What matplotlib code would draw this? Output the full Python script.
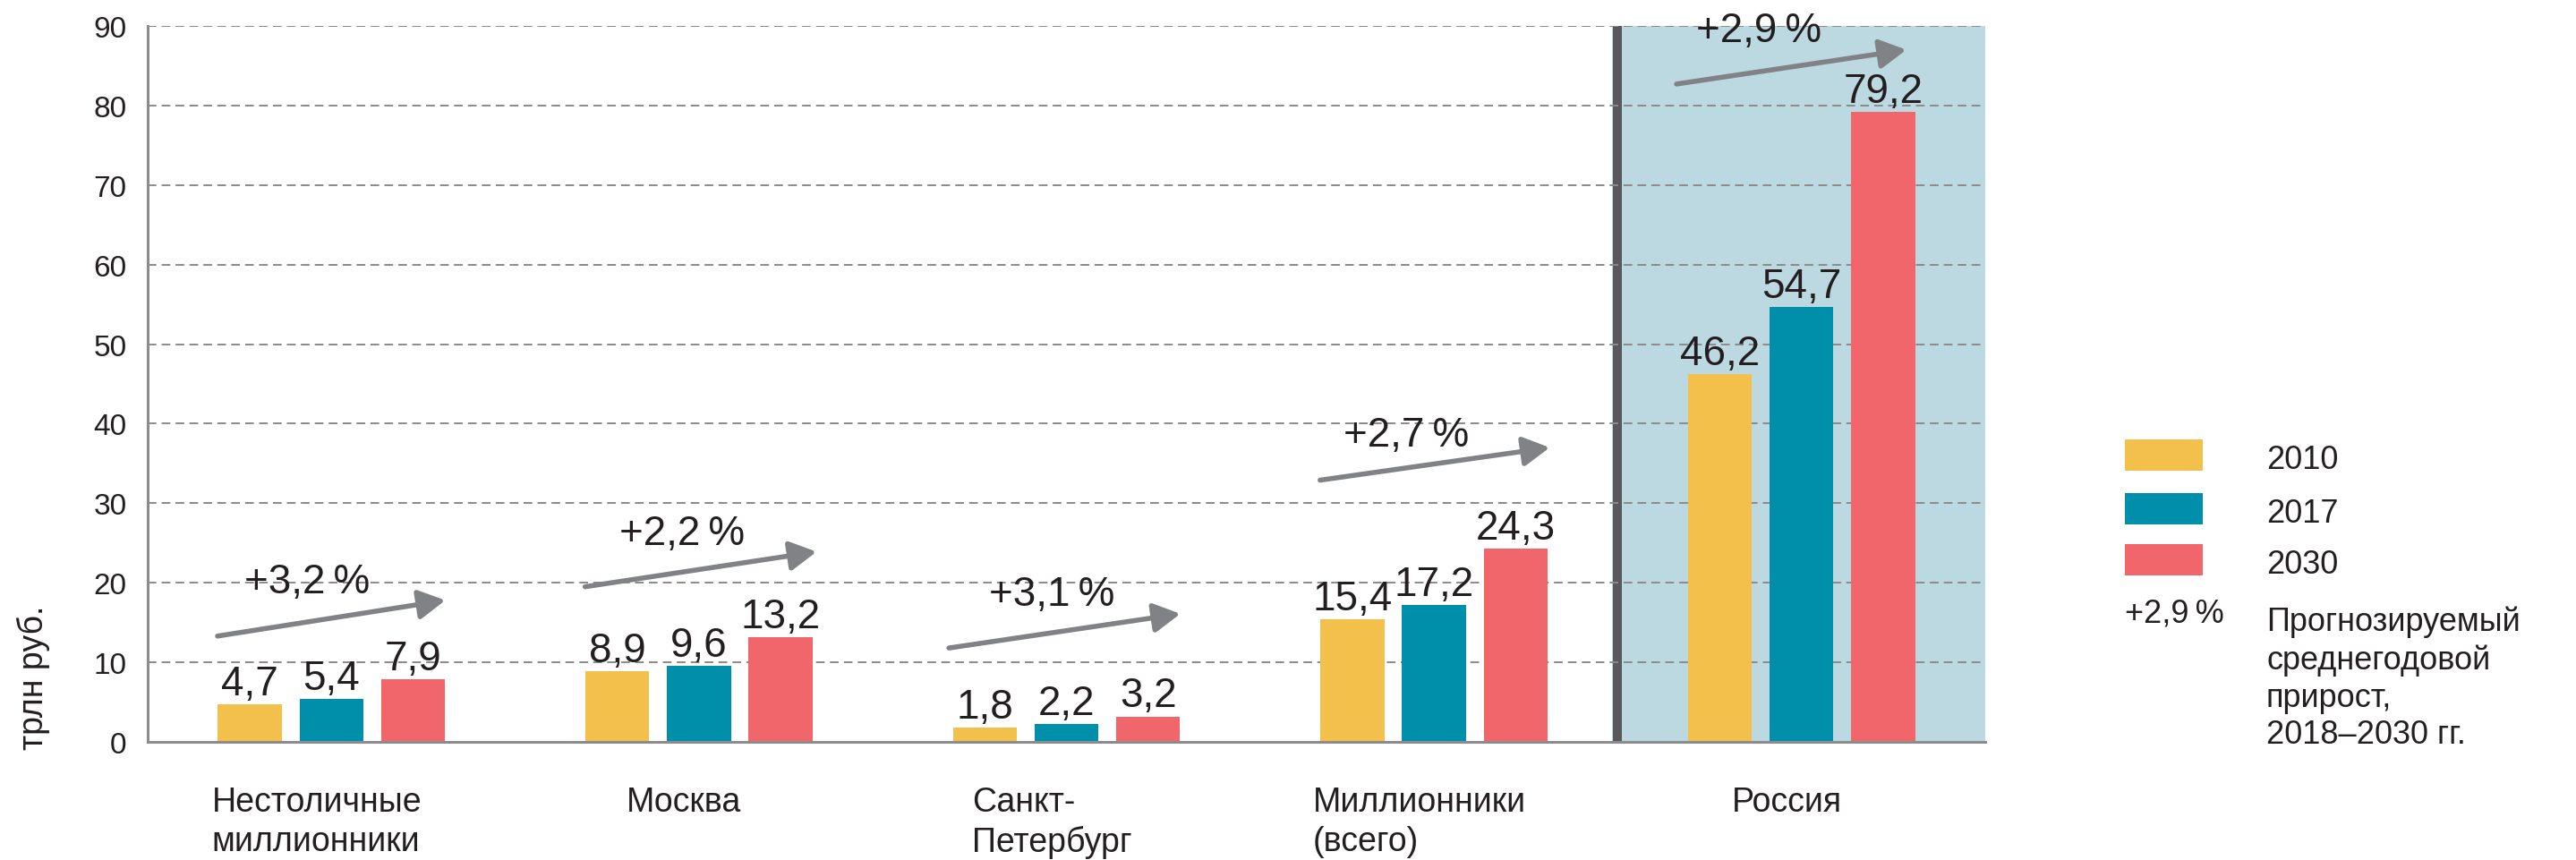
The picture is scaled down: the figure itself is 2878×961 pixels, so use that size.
import matplotlib
matplotlib.use("Agg")
import matplotlib.pyplot as plt
from matplotlib.patches import Rectangle

plt.rcParams['font.family'] = ['Liberation Sans', 'DejaVu Sans']

# data
categories = ['Нестоличные\nмиллионники', 'Москва', 'Санкт-\nПетербург',
              'Миллионники\n(всего)', 'Россия']
years = ['2010', '2017', '2030']
v2010 = [4.7, 8.9, 1.8, 15.4, 46.2]
v2017 = [5.4, 9.6, 2.2, 17.2, 54.7]
v2030 = [7.9, 13.2, 3.2, 24.3, 79.2]
growth = ['+3,2', '+2,2', '+3,1', '+2,7', '+2,9']

colors = ['#f4c04c', '#008fab', '#f0666b']
text_c = '#231f20'
arrow_c = '#808285'

# arrow layout per group: (x start off, y start, x end off, y end)
arrows = [(-0.31, 13.3, 0.31, 17.8),
          (-0.31, 19.5, 0.32, 23.9),
          (-0.32, 11.8, 0.31, 16.1),
          (-0.31, 32.9, 0.315, 37.0),
          (-0.34, 82.7, 0.285, 87.0)]
# growth label layout: (x off, baseline y)
glabels = [(-0.066, 18.8), (-0.046, 24.9), (-0.04, 17.2), (-0.075, 37.2), (-0.117, 88.1)]

W, H = 2878, 962
fig = plt.figure(figsize=(W / 100, H / 100), dpi=100)
ax = fig.add_axes([165 / W, 1 - 830 / H, (2218 - 165) / W, 800 / H])

n = len(categories)
ax.set_xlim(-0.5, n - 0.5)
ax.set_ylim(0, 90)

# Russia panel
ax.axvspan(n - 1.515, n - 0.5, color='#bcd8e1', zorder=0.2, lw=0)
ax.axvline(n - 1.502, color='#58595b', lw=7.2, zorder=0.3)

width, step = 0.174, 0.222
series = [v2010, v2017, v2030]
for k, vals in enumerate(series):
    xs = [i + (k - 1) * step for i in range(n)]
    ax.bar(xs, vals, width=width, color=colors[k], zorder=2, lw=0)
    for x, v in zip(xs, vals):
        ax.annotate(f"{v:.1f}".replace('.', ','), (x, v), xytext=(0, 8),
                    textcoords='offset points', ha='center', va='baseline',
                    fontsize=33, color=text_c)

for i in range(n):
    x0, y0, x1, y1 = arrows[i]
    ax.annotate('', xy=(i + x1, y1), xytext=(i + x0, y0),
                arrowprops=dict(arrowstyle='-|>,head_length=0.4,head_width=0.22',
                                mutation_scale=45, lw=4, color=arrow_c,
                                shrinkA=0, shrinkB=0),
                zorder=4, annotation_clip=False)
    gx, gy = glabels[i]
    ax.text(i + gx, gy, growth[i] + '\u2009%', ha='center', va='baseline',
            fontsize=33, color=text_c, zorder=5, clip_on=False)

ax.set_yticks(range(0, 91, 10))
ax.set_xticks([i - 0.04 for i in range(n)])
ax.set_xticklabels(categories, multialignment='left', fontsize=27, color=text_c,
                   linespacing=1.3)
ax.tick_params(axis='x', length=0, pad=35)
ax.tick_params(axis='y', length=0, pad=17, labelsize=24, labelcolor=text_c)

ax.yaxis.grid(True, linestyle=(0, (5, 3)), color='#8a8a8a', lw=1.4)
ax.set_axisbelow(True)
for s in ['top', 'right']:
    ax.spines[s].set_visible(False)
for s in ['left', 'bottom']:
    ax.spines[s].set_color('#8c8c8e')
    ax.spines[s].set_linewidth(2.2)
    ax.spines[s].set_zorder(3)

fig.text(37 / W, 1 - 757 / H, 'трлн руб.', rotation=90, ha='center', va='center',
         fontsize=27, color=text_c)

# legend
for k, yr in enumerate(years):
    bottom = [527, 587, 644][k]
    fig.add_artist(Rectangle((2374 / W, 1 - bottom / H), 87 / W, 35 / H,
                             transform=fig.transFigure, color=colors[k], lw=0))
    fig.text(2532 / W, 1 - (bottom - 3) / H, yr, ha='left', va='baseline',
             fontsize=26, color=text_c)
fig.text(2374 / W, 1 - 696 / H, growth[-1] + '\u2009%', ha='left', va='baseline',
         fontsize=26, color=text_c)
fig.text(2532 / W, 1 - 678 / H,
         'Прогнозируемый\nсреднегодовой\nприрост,\n2018–2030 гг.',
         ha='left', va='top', fontsize=26, color=text_c, linespacing=1.25)

fig.savefig('out.png', dpi=100)
